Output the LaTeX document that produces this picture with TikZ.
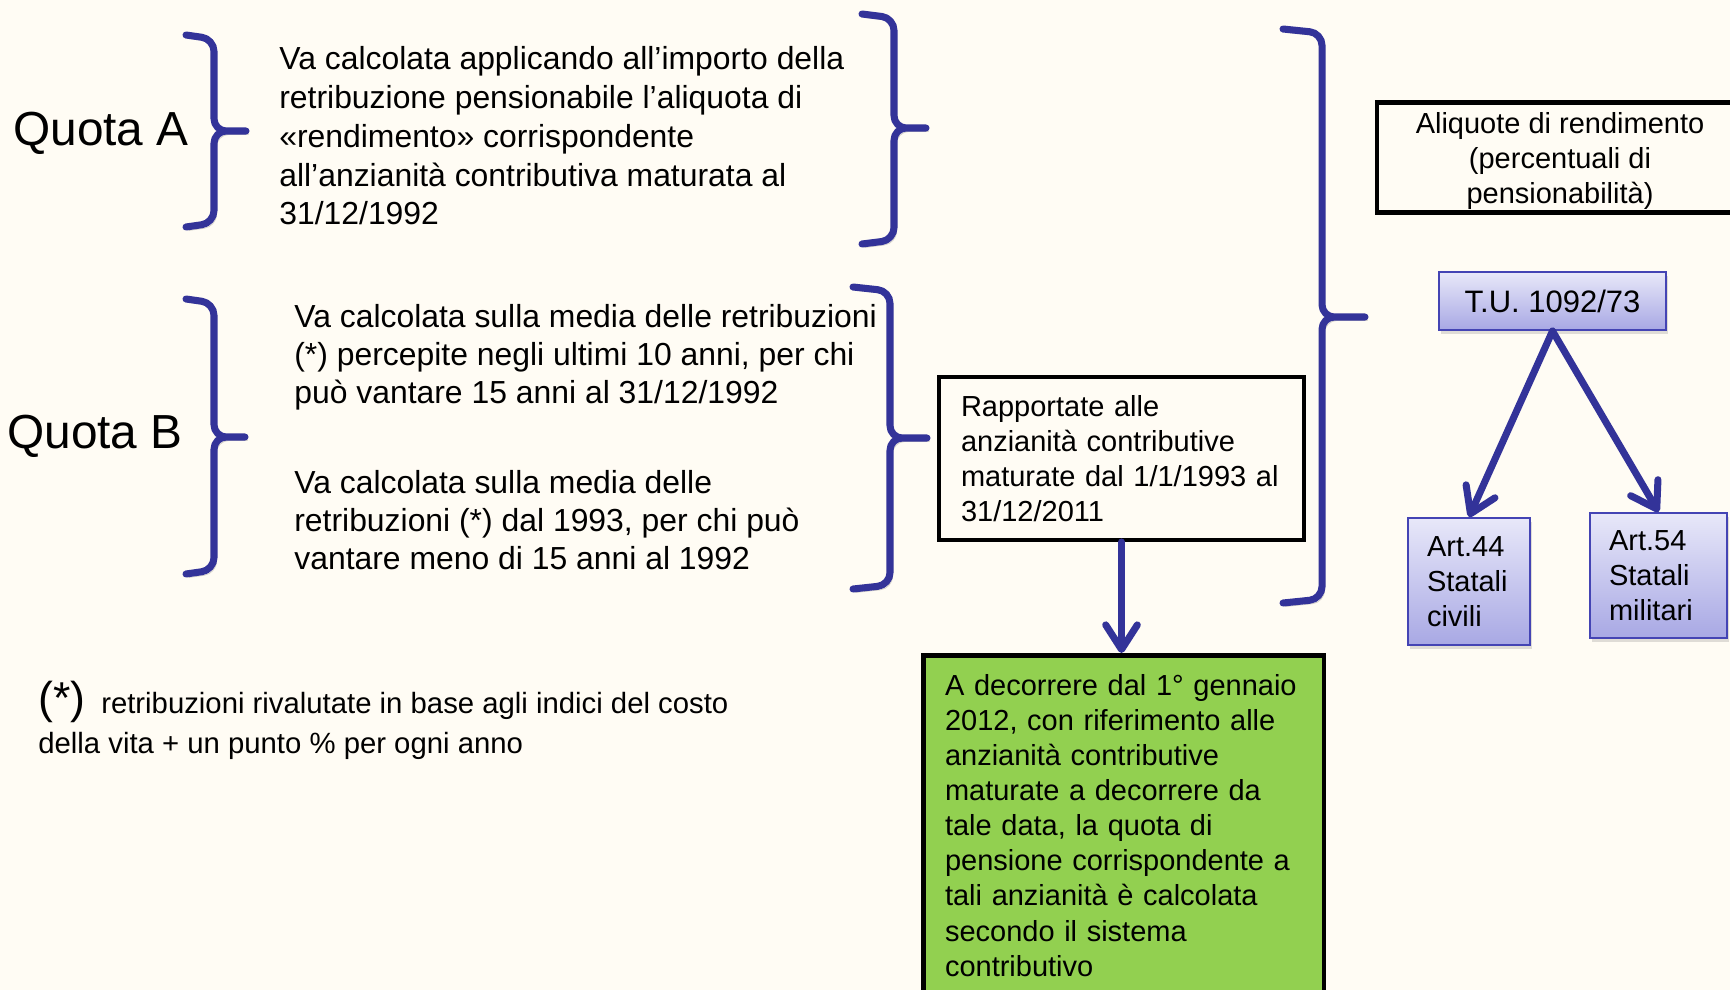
\documentclass[tikz,border=0pt]{standalone}
\usepackage{fontspec}
\setmainfont{Liberation Sans}
\usetikzlibrary{arrows.meta,shadows,positioning}
\definecolor{BraceBlue}{HTML}{333399}
\definecolor{BoxEdge}{HTML}{4444B4}
\definecolor{BoxTop}{HTML}{E8E8F9}
\definecolor{BoxBot}{HTML}{A8A8E4}
\definecolor{PageCream}{HTML}{FFFCF4}
\definecolor{LeafGreen}{HTML}{92D050}
\newcommand{\fquota}{\fontsize{27.2pt}{32pt}\selectfont}
\newcommand{\fsmall}{\fontsize{16.5pt}{19.97pt}\selectfont}
\newcommand{\fstar}{\fontsize{25.4pt}{28pt}\selectfont}
% right brace: tip x, bar x, point x, top, middle, bottom
\newcommand{\drawbrace}[6]{%
    \draw[brace] (#1,#4) -- (#2,{#4+4}) -- (#2,#5) -- (#3,#5)
                 (#3,#5) -- (#2,#5) -- (#2,{#6-4}) -- (#1,#6);}
\tikzset{
    brace/.style = {draw=BraceBlue, line width=4pt, line cap=round, line join=round,
        rounded corners=7pt,
        preaction={draw=black, opacity=.18, transform canvas={xshift=1.5pt,yshift=-2pt}}},
    arrow/.style = {draw=BraceBlue, line width=4pt, line cap=round,
        -{Straight Barb[length=14pt,width=18pt,line cap=round,line join=round]}},
    txt/.style = {anchor=north west, inner sep=0pt, align=left},
    plainbox/.style = {draw=black, align=left, font=\fsmall},
    bluebox/.style = {draw=BoxEdge, line width=1.2pt, top color=BoxTop, bottom color=BoxBot,
        drop shadow={shadow xshift=1.2pt, shadow yshift=-2pt, opacity=.25}}
}
\begin{document}
\begin{tikzpicture}[x=0.02cm, y=-0.02cm]
\fill[PageCream] (0,0) rectangle (1730,990);
\useasboundingbox (0,0) rectangle (1730,990);

\node[anchor=base west, inner sep=0pt, font=\fquota] (qa) at (13,145) {Quota A};
\node[anchor=base west, inner sep=0pt, font=\fquota] (qb) at (7,448) {Quota B};

\node[txt, font=\fontsize{18.15pt}{22.05pt}\selectfont] (ta) at (279,46.5)
    {Va calcolata applicando all’importo della\\retribuzione pensionabile l’aliquota di\\«rendimento» corrispondente\\all’anzianità contributiva maturata al\\31/12/1992};
\node[txt, font=\fontsize{18.15pt}{21.6pt}\selectfont] (tb1) at (294,304)
    {Va calcolata sulla media delle retribuzioni\\(*) percepite negli ultimi 10 anni, per chi\\può vantare 15 anni al 31/12/1992};
\node[txt, font=\fontsize{18.15pt}{21.6pt}\selectfont] (tb2) at (294,470)
    {Va calcolata sulla media delle\\retribuzioni (*) dal 1993, per chi può\\vantare meno di 15 anni al 1992};

\drawbrace{186}{214}{246}{35}{131}{227}
\drawbrace{186}{214}{245}{299}{437}{574}
\drawbrace{862}{894}{926}{14}{128}{244}
\drawbrace{853}{890}{927}{287}{438}{589}
\drawbrace{1283}{1322}{1365}{29}{317}{603}

\node[txt, font=\fontsize{16.68pt}{22.9pt}\selectfont] (note) at (38,681)
    {{\fstar(*)}\hspace{9pt}retribuzioni rivalutate in base agli indici del costo\\della vita + un punto \% per ogni anno};

\node[plainbox, line width=2.3pt, minimum width=7.3cm, minimum height=3.26cm,
    text width=6.42cm, inner xsep=0.44cm] (rapp) at (1121.5,458.5)
    {Rapportate alle\\anzianità contributive\\maturate dal 1/1/1993 al\\31/12/2011};
\node[plainbox, line width=2.8pt, fill=LeafGreen, anchor=north, minimum width=8.02cm,
    text width=7.14cm, inner xsep=0.44cm, inner ysep=0.38cm] (green) at (1123.5,653)
    {A decorrere dal 1° gennaio\\2012, con riferimento alle\\anzianità contributive\\maturate a decorrere da\\tale data, la quota di\\pensione corrispondente a\\tali anzianità è calcolata\\secondo il sistema\\contributivo};
\node[plainbox, line width=2.6pt, align=center, minimum width=7.32cm, minimum height=2.2cm,
    inner sep=0pt] (aliq) at (1560,157.5)
    {\rule{0pt}{15.8pt}Aliquote di rendimento\\(percentuali di\\pensionabilità)};

\node[bluebox, minimum width=4.54cm, minimum height=1.16cm, inner sep=0pt,
    font=\fontsize{17.65pt}{21pt}\selectfont] (tu) at (1552.5,301) {T.U. 1092/73};
\node[bluebox, minimum width=2.44cm, minimum height=2.54cm, text width=1.68cm,
    inner xsep=0.38cm, align=left, font=\fsmall] (art44) at (1469,581.5) {Art.44\\Statali\\civili};
\node[bluebox, minimum width=2.74cm, minimum height=2.5cm, text width=1.98cm,
    inner xsep=0.38cm, align=left, font=\fsmall] (art54) at (1658.5,575.5) {Art.54\\Statali\\militari};

\draw[arrow] (rapp.south) -- (rapp.south |- green.north);
\draw[arrow] (tu.south) -- (art44.north);
\draw[arrow] (tu.south) -- (art54.north);
\end{tikzpicture}
\end{document}
